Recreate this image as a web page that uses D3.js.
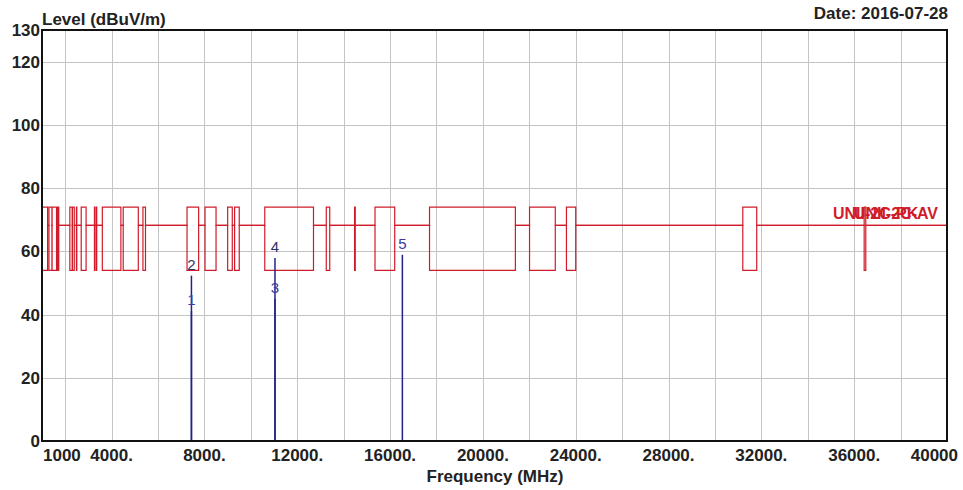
<!DOCTYPE html>
<html>
<head>
<meta charset="utf-8">
<script src="https://cdn.jsdelivr.net/npm/d3@7/dist/d3.min.js"></script>
<style>
  html, body { margin: 0; padding: 0; background: #ffffff; }
  svg text { font-family: "Liberation Sans", Arial, sans-serif; }
</style>
</head>
<body>
<svg id="chart" width="963" height="490"></svg>
<script>
// ---- data ----
const yTicks = [0, 20, 40, 60, 80, 100, 120, 130];
const yGrid = [20, 40, 60, 80, 100, 120];
const xGrid = [2000, 4000, 6000, 8000, 10000, 12000, 14000, 16000, 18000, 20000,
               22000, 24000, 26000, 28000, 30000, 32000, 34000, 36000, 38000];
const xTickValues = [4000, 8000, 12000, 16000, 20000, 24000, 28000, 32000, 36000];
const xTickLabels = ["4000.", "8000.", "12000.", "16000.", "20000.", "24000.", "28000.", "32000.", "36000."];

// restricted bands (MHz)
const bandStart = [1000, 1300, 1435, 1645.5, 1660, 1718.8, 2200, 2310, 2483.5, 2690,
                   3260, 3332, 3345.8, 3600, 4500, 5350, 7250, 8025, 9000, 9300,
                   10600, 13250, 14470, 15350, 17700, 22010, 23600, 31200, 36430];
const bandEnd   = [1240, 1427, 1626.5, 1646.5, 1710, 1722.2, 2300, 2390, 2500, 2900,
                   3267, 3339, 3358, 4400, 5150, 5460, 7750, 8500, 9200, 9500,
                   12700, 13400, 14500, 16200, 21400, 23120, 24000, 31800, 36500];
const limitOutside = 68.2;
const limitPK = 74;
const limitAV = 54;
const freqEnd = 40000;

// markers
const markerNo    = [1, 2, 3, 4, 5];
const markerFreq  = [7440, 7440, 11040, 11040, 16530];
const markerLevel = [41.1, 52.3, 44.9, 57.9, 58.9];

// ---- layout ----
const svg = d3.select("#chart");
const pL = 42, pR = 947, pT = 30, pB = 441;
const x = d3.scaleLinear().domain([1000, 40000]).range([pL, pR]);
const y = d3.scaleLinear().domain([0, 130]).range([pB, pT]);
const red = "#d01c2a";

// grid
svg.append("g").selectAll("line").data(xGrid).join("line")
  .attr("x1", d => Math.round(x(d)) + 0.5).attr("x2", d => Math.round(x(d)) + 0.5)
  .attr("y1", pT).attr("y2", pB)
  .attr("stroke", "#c4c4c4").attr("stroke-width", 1);
svg.append("g").selectAll("line").data(yGrid).join("line")
  .attr("x1", pL).attr("x2", pR)
  .attr("y1", d => Math.round(y(d)) + 0.5).attr("y2", d => Math.round(y(d)) + 0.5)
  .attr("stroke", "#c4c4c4").attr("stroke-width", 1);

// limit lines built from band arrays
function limitPoints(inside) {
  const pts = [];
  bandStart.forEach((s, i) => {
    const e = bandEnd[i];
    pts.push([s, limitOutside], [s, inside], [e, inside], [e, limitOutside]);
  });
  pts.push([freqEnd, limitOutside]);
  return pts;
}
const line = d3.line().x(d => x(d[0])).y(d => y(d[1]));
svg.append("path").attr("d", line(limitPoints(limitPK)))
  .attr("fill", "none").attr("stroke", red).attr("stroke-width", 1.2);
svg.append("path").attr("d", line(limitPoints(limitAV)))
  .attr("fill", "none").attr("stroke", red).attr("stroke-width", 1.2);

// limit labels
svg.append("text").attr("x", 833).attr("y", y(limitOutside) - 6)
  .attr("font-size", 16).attr("font-weight", "bold").attr("fill", red)
  .text("UNII-2C-PK");
svg.append("text").attr("x", 938).attr("y", y(limitOutside) - 6)
  .attr("text-anchor", "end")
  .attr("font-size", 16).attr("font-weight", "bold").attr("fill", red)
  .text("UNII-2C-AV");

// markers
svg.append("g").selectAll("line").data(markerFreq).join("line")
  .attr("x1", d => x(d)).attr("x2", d => x(d))
  .attr("y1", y(0)).attr("y2", (d, i) => y(markerLevel[i]))
  .attr("stroke", "#22228a").attr("stroke-width", 1.5);
svg.append("g").selectAll("text").data(markerNo).join("text")
  .attr("x", (d, i) => x(markerFreq[i]))
  .attr("y", (d, i) => y(markerLevel[i]) - 6)
  .attr("text-anchor", "middle").attr("font-size", 15)
  .attr("fill", (d, i) => i % 2 === 0 ? "#3a3aa0" : "#30306a")
  .text(d => d);

// frame
svg.append("rect").attr("x", pL).attr("y", pT)
  .attr("width", pR - pL).attr("height", pB - pT)
  .attr("fill", "none").attr("stroke", "#111").attr("stroke-width", 2);

// y axis labels
svg.append("g").selectAll("text").data(yTicks).join("text")
  .attr("x", 40).attr("y", d => y(d) + 6)
  .attr("text-anchor", "end").attr("font-size", 17).attr("font-weight", "bold")
  .attr("fill", "#222").text(d => d);

// x axis labels
svg.append("g").selectAll("text").data(xTickValues).join("text")
  .attr("x", d => x(d)).attr("y", 461)
  .attr("text-anchor", "middle").attr("font-size", 17).attr("font-weight", "bold")
  .attr("fill", "#222").text((d, i) => xTickLabels[i]);
svg.append("text").attr("x", x(1000) + 1).attr("y", 461)
  .attr("font-size", 17).attr("font-weight", "bold").attr("fill", "#222").text("1000");
svg.append("text").attr("x", 958).attr("y", 461).attr("text-anchor", "end")
  .attr("font-size", 17).attr("font-weight", "bold").attr("fill", "#222").text("40000");

// titles
svg.append("text").attr("x", 42).attr("y", 25)
  .attr("font-size", 17).attr("font-weight", "bold").attr("fill", "#222")
  .text("Level (dBuV/m)");
svg.append("text").attr("x", 948).attr("y", 19).attr("text-anchor", "end")
  .attr("font-size", 17).attr("font-weight", "bold").attr("fill", "#222")
  .text("Date: 2016-07-28");
svg.append("text").attr("x", 495).attr("y", 482).attr("text-anchor", "middle")
  .attr("font-size", 17).attr("font-weight", "bold").attr("fill", "#222")
  .text("Frequency (MHz)");
</script>
</body>
</html>
